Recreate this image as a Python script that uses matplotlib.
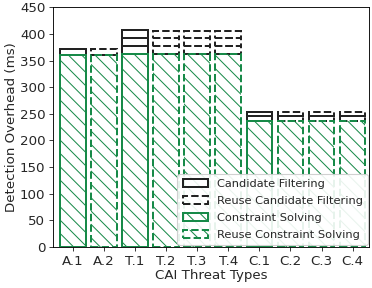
import matplotlib.pyplot as plt
import numpy as np

threats = ['A.1', 'A.2', 'T.1', 'T.2', 'T.3', 'T.4', 'C.1', 'C.2', 'C.3', 'C.4']
reuse = [False, True, False, True, True, True, False, True, True, True]

# constraint solving time (ms)
solving = [361, 361, 362, 362, 362, 362, 237, 237, 237, 237]
# candidate filtering time, split in stacked rounds (ms)
filter1 = [10, 10, 16, 16, 16, 16, 8, 8, 8, 8]
filter2 = [0, 0, 15, 15, 15, 15, 8, 8, 8, 8]
filter3 = [0, 0, 14, 13, 13, 13, 0, 0, 0, 0]

green = '#178a48'
plt.rcParams['hatch.color'] = green
plt.rcParams['hatch.linewidth'] = 0.9
plt.rcParams['font.size'] = 12
plt.rcParams['text.color'] = '#262626'
plt.rcParams['axes.labelcolor'] = '#262626'
plt.rcParams['xtick.color'] = '#262626'
plt.rcParams['ytick.color'] = '#262626'

fig, ax = plt.subplots(figsize=(4.65, 3.6), dpi=80)
x = np.arange(len(threats))
w = 0.82

handles = {}
bottom = np.array(solving, dtype=float)
for layer in [filter1, filter2, filter3]:
    for i in range(len(x)):
        if layer[i] == 0:
            continue
        ls = '--' if reuse[i] else '-'
        b = ax.bar(x[i], layer[i], w, bottom=bottom[i], color='none',
                   edgecolor='#222222', linewidth=1.8, linestyle=ls)
        key = 'Reuse Candidate Filtering' if reuse[i] else 'Candidate Filtering'
        handles.setdefault(key, b)
    bottom = bottom + np.array(layer)

for i in range(len(x)):
    ls = '--' if reuse[i] else '-'
    b = ax.bar(x[i], solving[i], w, color='none', edgecolor=green,
               hatch='\\\\', linewidth=1.8, linestyle=ls)
    key = 'Reuse Constraint Solving' if reuse[i] else 'Constraint Solving'
    handles.setdefault(key, b)

order = ['Candidate Filtering', 'Reuse Candidate Filtering',
         'Constraint Solving', 'Reuse Constraint Solving']
ax.legend([handles[k] for k in order], order, loc='lower right',
          fontsize=10.2, framealpha=0.9, borderaxespad=0.15,
          handletextpad=0.8, labelspacing=0.62, handlelength=2.2,
          borderpad=0.45)

ax.set_xticks(x)
ax.set_xticklabels(threats)
ax.set_xlim(-0.63, 9.54)
ax.set_ylim(0, 450)
ax.set_yticks(np.arange(0, 451, 50))
ax.set_xlabel('CAI Threat Types', labelpad=1)
ax.set_ylabel('Detection Overhead (ms)', labelpad=2)

plt.subplots_adjust(left=0.143, right=0.993, top=0.975, bottom=0.142)
plt.savefig('out.png')
